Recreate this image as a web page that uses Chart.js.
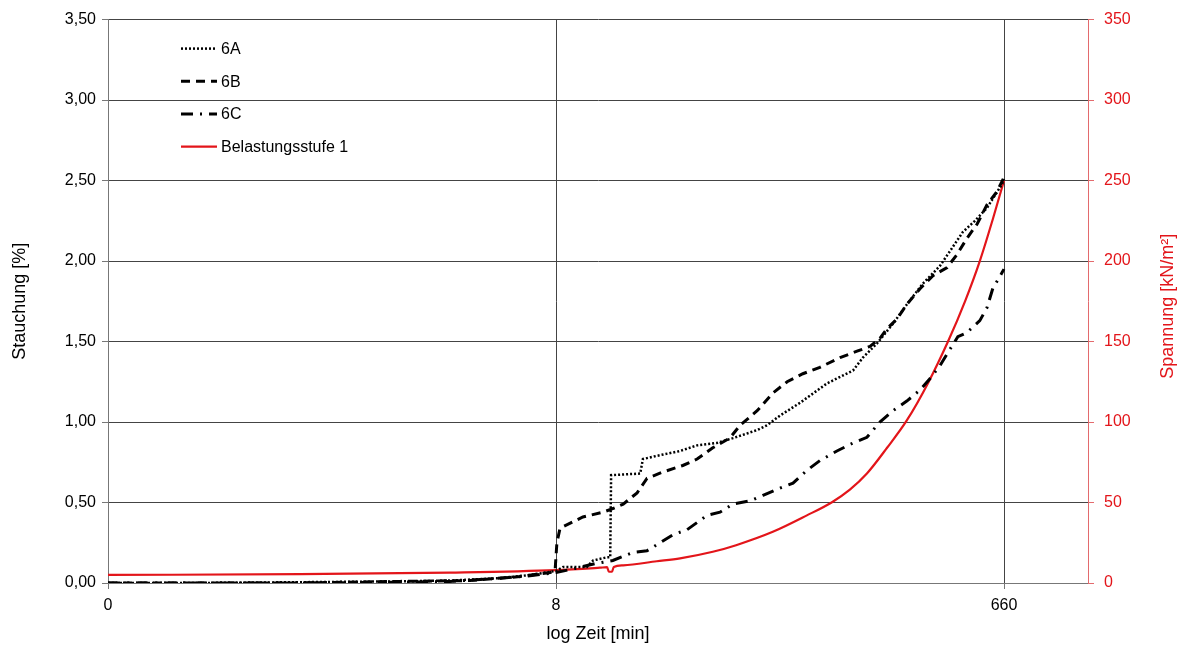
<!DOCTYPE html>
<html>
<head>
<meta charset="utf-8">
<script src="https://cdn.jsdelivr.net/npm/chart.js@4"></script>
<style>
  html, body { margin: 0; padding: 0; background: #fff; }
  #wrap { width: 1189px; height: 647px; }
</style>
</head>
<body>
<div id="wrap"><canvas id="myChart"></canvas></div>
<script>
// x positions are axis units: 0 -> "0", 1 -> "8", 2 -> "660" (equal spacing in the original)
const xTickLabels = ['0', '8', '660'];

const timeA = [0, 0.205, 0.429, 0.652, 0.763, 0.875, 0.942, 1.000, 1.016, 1.069, 1.083, 1.114, 1.121, 1.123, 1.188, 1.194, 1.225, 1.277, 1.315, 1.359, 1.395, 1.449, 1.471, 1.500, 1.545, 1.605, 1.641, 1.663, 1.685, 1.717, 1.752, 1.783, 1.819, 1.857, 1.879, 1.908, 1.935, 1.962, 1.996, 2.000];
const strainA = [0, 0, 0.005, 0.01, 0.015, 0.03, 0.05, 0.075, 0.10, 0.10, 0.14, 0.16, 0.16, 0.67, 0.68, 0.77, 0.79, 0.82, 0.855, 0.87, 0.90, 0.95, 0.98, 1.04, 1.12, 1.24, 1.29, 1.32, 1.40, 1.49, 1.61, 1.73, 1.86, 1.97, 2.06, 2.18, 2.25, 2.33, 2.48, 2.51];

const timeB = [0, 0.429, 0.652, 0.808, 0.920, 0.987, 0.998, 1.002, 1.009, 1.016, 1.060, 1.105, 1.125, 1.150, 1.181, 1.203, 1.239, 1.283, 1.315, 1.350, 1.388, 1.411, 1.449, 1.484, 1.516, 1.551, 1.589, 1.634, 1.672, 1.701, 1.723, 1.739, 1.761, 1.783, 1.813, 1.842, 1.873, 1.895, 1.917, 1.940, 1.962, 1.984, 2.000];
const strainB = [0, 0, 0.01, 0.015, 0.04, 0.065, 0.08, 0.25, 0.34, 0.35, 0.41, 0.44, 0.46, 0.49, 0.56, 0.65, 0.69, 0.73, 0.77, 0.84, 0.90, 0.98, 1.07, 1.18, 1.25, 1.30, 1.34, 1.40, 1.44, 1.47, 1.52, 1.58, 1.64, 1.73, 1.83, 1.91, 1.96, 2.04, 2.14, 2.23, 2.35, 2.43, 2.52];

const timeC = [0, 0.429, 0.652, 0.763, 0.875, 0.942, 1.000, 1.042, 1.087, 1.127, 1.172, 1.203, 1.232, 1.261, 1.292, 1.337, 1.366, 1.395, 1.433, 1.462, 1.500, 1.529, 1.560, 1.589, 1.627, 1.663, 1.694, 1.723, 1.752, 1.783, 1.813, 1.835, 1.857, 1.879, 1.897, 1.917, 1.946, 1.962, 1.975, 1.996, 2.000];
const strainC = [0, 0, 0.005, 0.01, 0.03, 0.045, 0.065, 0.09, 0.12, 0.14, 0.19, 0.20, 0.25, 0.30, 0.33, 0.42, 0.44, 0.49, 0.51, 0.545, 0.59, 0.62, 0.70, 0.76, 0.82, 0.87, 0.905, 1.00, 1.07, 1.13, 1.20, 1.27, 1.35, 1.45, 1.53, 1.555, 1.63, 1.71, 1.83, 1.93, 1.95];

const timeLoad = [0, 0.429, 0.763, 1.000, 1.098, 1.114, 1.118, 1.125, 1.129, 1.150, 1.225, 1.277, 1.350, 1.402, 1.484, 1.560, 1.616, 1.656, 1.694, 1.739, 1.783, 1.830, 1.875, 1.913, 1.946, 1.975, 2.000];
const stressLoad = [5, 5.5, 6.5, 8, 9.5, 9.8, 7, 7, 10, 11, 13.5, 15.3, 19.4, 23.5, 31.8, 42, 50.2, 58, 68, 84, 101, 124, 150, 175, 200, 226, 250];

const seriesNames = ['6A', '6B', '6C', 'Belastungsstufe 1'];
const leftTicks = [0, 0.5, 1, 1.5, 2, 2.5, 3, 3.5];

function pts(xs, ys) {
    return xs.map(function (x, i) { return { x: x, y: ys[i] }; });
}

const gridColor = '#444444';
const red = '#e3151a';
const fontFamily = '"Liberation Sans", Arial, sans-serif';

const legendPlugin = {
    id: 'insideLegend',
    afterDraw: function (chart) {
        const c = chart.ctx;
        const x0 = chart.chartArea.left + 73;
        let y = chart.chartArea.top + 29;
        chart.data.datasets.forEach(function (ds) {
            c.save();
            c.strokeStyle = ds.borderColor;
            c.lineWidth = ds.borderWidth;
            c.setLineDash(ds.borderDash || []);
            c.beginPath();
            c.moveTo(x0, y);
            c.lineTo(x0 + 36, y);
            c.stroke();
            c.setLineDash([]);
            c.fillStyle = '#000';
            c.font = '16px ' + fontFamily;
            c.textBaseline = 'middle';
            c.fillText(ds.label, x0 + 40, y + 1);
            c.restore();
            y += 32.7;
        });

        // right axis title, reading bottom to top like the left one
        const a = chart.chartArea;
        c.save();
        c.translate(chart.width - 21, (a.top + a.bottom) / 2 + 5);
        c.rotate(-Math.PI / 2);
        c.fillStyle = red;
        c.font = '18px ' + fontFamily;
        c.textAlign = 'center';
        c.textBaseline = 'middle';
        c.fillText('Spannung [kN/m²]', 0, 0);
        c.restore();
    }
};

const ctx = document.getElementById('myChart');

const myChart = new Chart(ctx, {
    type: 'line',
    data: {
        datasets: [{
            label: seriesNames[0],
            data: pts(timeA, strainA),
            borderColor: '#000',
            borderWidth: 2.5,
            borderDash: [2, 2],
            yAxisID: 'y'
        }, {
            label: seriesNames[1],
            data: pts(timeB, strainB),
            borderColor: '#000',
            borderWidth: 3,
            borderDash: [9, 6],
            yAxisID: 'y'
        }, {
            label: seriesNames[2],
            data: pts(timeC, strainC),
            borderColor: '#000',
            borderWidth: 3,
            borderDash: [12, 7, 2, 7],
            yAxisID: 'y'
        }, {
            label: seriesNames[3],
            data: pts(timeLoad, stressLoad),
            borderColor: red,
            borderWidth: 2.2,
            cubicInterpolationMode: 'monotone',
            yAxisID: 'y2'
        }]
    },
    options: {
        responsive: true,
        maintainAspectRatio: false,
        animation: false,
        elements: { point: { radius: 0 }, line: { tension: 0 } },
        layout: { padding: { top: 17, left: 0, right: 0, bottom: 0 } },
        plugins: { legend: { display: false }, tooltip: { enabled: false } },
        scales: {
            x: {
                type: 'linear',
                min: 0,
                max: 2.1875,
                afterBuildTicks: function (scale) {
                    scale.ticks = xTickLabels.map(function (l, i) { return { value: i }; });
                },
                afterFit: function (scale) { scale.height = 64; },
                ticks: {
                    color: '#000',
                    font: { size: 16, family: fontFamily },
                    padding: 7,
                    maxRotation: 0,
                    callback: function (v) { return xTickLabels[v]; }
                },
                grid: { color: gridColor, tickLength: 6, tickColor: '#777' },
                border: { color: '#777' },
                title: {
                    display: true,
                    text: 'log Zeit [min]',
                    color: '#000',
                    font: { size: 18, family: fontFamily },
                    padding: { top: 0, bottom: 2 }
                }
            },
            y: {
                position: 'left',
                min: 0,
                max: 3.5,
                afterBuildTicks: function (scale) {
                    scale.ticks = leftTicks.map(function (v) { return { value: v }; });
                },
                afterFit: function (scale) { scale.width = 108; },
                ticks: {
                    color: '#000',
                    font: { size: 16, family: fontFamily },
                    padding: 6,
                    callback: function (v) { return v.toFixed(2).replace('.', ','); }
                },
                grid: { color: gridColor, tickLength: 6, tickColor: '#777' },
                border: { color: '#777' },
                title: {
                    display: true,
                    text: 'Stauchung [%]',
                    color: '#000',
                    font: { size: 18, family: fontFamily },
                    padding: { top: 9, bottom: 0 }
                }
            },
            y2: {
                position: 'right',
                min: 0,
                max: 350,
                afterBuildTicks: function (scale) {
                    scale.ticks = leftTicks.map(function (v) { return { value: v * 100 }; });
                },
                afterFit: function (scale) { scale.width = 101; },
                ticks: {
                    color: red,
                    font: { size: 16, family: fontFamily },
                    padding: 10
                },
                grid: { drawOnChartArea: false, tickLength: 6, tickColor: '#e36a6d' },
                border: { color: '#e36a6d' },
                title: { display: false }
            }
        }
    },
    plugins: [legendPlugin]
});
</script>
</body>
</html>
